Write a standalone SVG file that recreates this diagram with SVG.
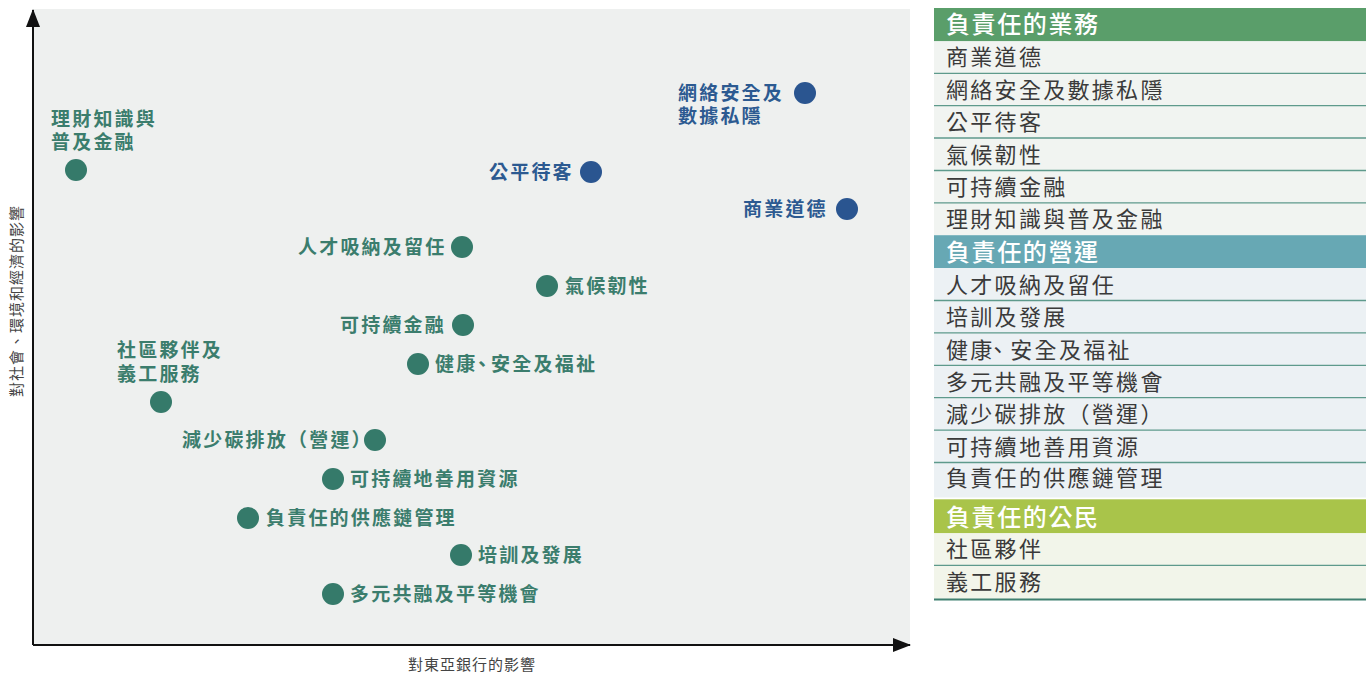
<svg xmlns="http://www.w3.org/2000/svg" width="1367" height="673" viewBox="0 0 1367 673">
<defs>
<style>
.lbl{font-family:"Noto Sans CJK TC","Noto Sans CJK SC",sans-serif;font-size:19px;font-weight:700;letter-spacing:2.2px}
.g{fill:#3b7d6d}
.b{fill:#2c5a91}
.dg{fill:#357a6a}
.db{fill:#2a5590}
.ax{font-family:"Noto Sans CJK TC",sans-serif;font-size:15px;fill:#444;letter-spacing:1px}
.lg{font-family:"Noto Sans CJK TC",sans-serif;font-size:22px;fill:#3a3a3a;letter-spacing:2.3px}
.hd{font-family:"Noto Sans CJK TC",sans-serif;font-size:24px;fill:#ffffff;font-weight:500;letter-spacing:1.6px}
.sep{stroke:#5e9a8c;stroke-width:1.3}
</style>
<marker id="arr" markerWidth="18" markerHeight="14" refX="17" refY="7" orient="auto" markerUnits="userSpaceOnUse">
<path d="M0,0 L18,7 L0,14 Z" fill="#111"/>
</marker>
</defs>
<rect x="0" y="0" width="1367" height="673" fill="#ffffff"/>
<rect x="33" y="9" width="877" height="636" fill="#eef0ef"/>
<g id="axes">
<line x1="33" y1="645" x2="33" y2="10" stroke="#111" stroke-width="2" marker-end="url(#arr)"/>
<line x1="33" y1="645" x2="910" y2="645" stroke="#111" stroke-width="2" marker-end="url(#arr)"/>
<text class="ax" x="472" y="670" text-anchor="middle">對東亞銀行的影響</text>
<text class="ax" transform="translate(16,301) rotate(-90)" x="0" y="5.7" text-anchor="middle">對社會、環境和經濟的影響</text>
</g>
<g id="connectors"></g>
<g id="n-finlit"><circle class="dg" cx="76" cy="170" r="11"/><text class="lbl g" x="51" y="125.7">理財知識與<tspan x="51" dy="23.5">普及金融</tspan></text></g>
<g id="n-cyber"><circle class="db" cx="805" cy="93" r="11"/><text class="lbl b" x="678" y="99.7">網絡安全及<tspan x="678" dy="23.5">數據私隱</tspan></text></g>
<g id="n-fair"><circle class="db" cx="591" cy="172" r="11"/><text class="lbl b" x="489" y="179.2">公平待客</text></g>
<g id="n-ethics"><circle class="db" cx="847" cy="209" r="11"/><text class="lbl b" x="743" y="215.7">商業道德</text></g>
<g id="n-talent"><circle class="dg" cx="462" cy="247" r="11"/><text class="lbl g" x="298" y="254.2">人才吸納及留任</text></g>
<g id="n-climate"><circle class="dg" cx="547" cy="286" r="11"/><text class="lbl g" x="565" y="293.2">氣候韌性</text></g>
<g id="n-susfin"><circle class="dg" cx="463" cy="325" r="11"/><text class="lbl g" x="340" y="332.2">可持續金融</text></g>
<g id="n-health"><circle class="dg" cx="418" cy="364" r="11"/><text class="lbl g" x="435" y="371.2">健康<tspan dx="-5">、</tspan><tspan dx="-2.5">安全及福祉</tspan></text></g>
<g id="n-community"><circle class="dg" cx="161" cy="402" r="11"/><text class="lbl g" x="117" y="356.7">社區夥伴及<tspan x="117" dy="24">義工服務</tspan></text></g>
<g id="n-carbon"><circle class="dg" cx="375" cy="440" r="11"/><text class="lbl g" x="182" y="447.2">減少碳排放（營運）</text></g>
<g id="n-resource"><circle class="dg" cx="333" cy="479" r="11"/><text class="lbl g" x="350" y="486.2">可持續地善用資源</text></g>
<g id="n-supply"><circle class="dg" cx="248" cy="518" r="11"/><text class="lbl g" x="266" y="525.2">負責任的供應鏈管理</text></g>
<g id="n-training"><circle class="dg" cx="461" cy="555" r="11"/><text class="lbl g" x="478" y="562.2">培訓及發展</text></g>
<g id="n-diversity"><circle class="dg" cx="333" cy="594" r="11"/><text class="lbl g" x="350" y="601.2">多元共融及平等機會</text></g>
<g id="legend">
<rect x="934" y="8" width="432" height="33.3" fill="#5a9e6a"/>
<rect x="934" y="41.3" width="432" height="194" fill="#f1f4f1"/>
<rect x="934" y="235.2" width="432" height="32.8" fill="#67a8b4"/>
<rect x="934" y="268" width="432" height="229.5" fill="#ecf1f4"/>
<rect x="934" y="499.3" width="432" height="34" fill="#a9c44a"/>
<rect x="934" y="533.3" width="432" height="65.7" fill="#f2f5ea"/>
<line class="sep" x1="934" y1="73.3" x2="1366" y2="73.3"/>
<line class="sep" x1="934" y1="105.7" x2="1366" y2="105.7"/>
<line class="sep" x1="934" y1="138" x2="1366" y2="138"/>
<line class="sep" x1="934" y1="170.5" x2="1366" y2="170.5"/>
<line class="sep" x1="934" y1="202.8" x2="1366" y2="202.8"/>
<line class="sep" x1="934" y1="300.5" x2="1366" y2="300.5"/>
<line class="sep" x1="934" y1="332.9" x2="1366" y2="332.9"/>
<line class="sep" x1="934" y1="365.3" x2="1366" y2="365.3"/>
<line class="sep" x1="934" y1="397.7" x2="1366" y2="397.7"/>
<line class="sep" x1="934" y1="430.1" x2="1366" y2="430.1"/>
<line class="sep" x1="934" y1="462.5" x2="1366" y2="462.5"/>
<line class="sep" x1="934" y1="565.3" x2="1366" y2="565.3"/>
<line x1="934" y1="599.5" x2="1366" y2="599.5" stroke="#3f8070" stroke-width="2"/>
<text class="hd" x="946" y="33">負責任的業務</text>
<text class="lg" x="946" y="65.4">商業道德</text>
<text class="lg" x="946" y="97.9">網絡安全及數據私隱</text>
<text class="lg" x="946" y="130.3">公平待客</text>
<text class="lg" x="946" y="162.6">氣候韌性</text>
<text class="lg" x="946" y="195">可持續金融</text>
<text class="lg" x="946" y="227.4">理財知識與普及金融</text>
<text class="hd" x="946" y="260.6">負責任的營運</text>
<text class="lg" x="946" y="292.7">人才吸納及留任</text>
<text class="lg" x="946" y="325.1">培訓及發展</text>
<text class="lg" x="946" y="357.5">健康<tspan dx="-7.8">、</tspan><tspan dx="-0.8">安全及福祉</tspan></text>
<text class="lg" x="946" y="389.9">多元共融及平等機會</text>
<text class="lg" x="946" y="422.3">減少碳排放（營運）</text>
<text class="lg" x="946" y="454.7">可持續地善用資源</text>
<text class="lg" x="946" y="486.4">負責任的供應鏈管理</text>
<text class="hd" x="946" y="525.7">負責任的公民</text>
<text class="lg" x="946" y="557.4">社區夥伴</text>
<text class="lg" x="946" y="590">義工服務</text>
</g>
</svg>
